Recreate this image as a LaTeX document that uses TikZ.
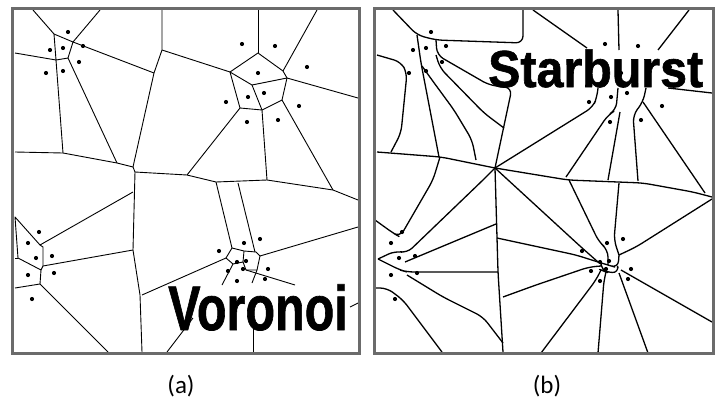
\documentclass[tikz,border=0pt]{standalone}
\usepackage{fontspec}
\newfontfamily\labelfont{Carlito}
\newfontfamily\titlefont[UprightFont={* Bold}, FakeBold=1.2]{Liberation Sans}
\tikzset{
  frame/.style={draw=black!58, line width=3pt},
  cell/.style={line width=0.9pt, line join=round},
  burst/.style={line width=1.3pt, rounded corners=7pt, line join=round},
  caption/.style={font=\labelfont\fontsize{25}{25}\selectfont},
  title/.style={font=\titlefont\fontsize{#1}{#1}\selectfont, inner sep=0pt, anchor=base west}
}
\begin{document}
\begin{tikzpicture}[x=1pt,y=-1pt]
\useasboundingbox (0,0) rectangle (716,410);

% (a) Voronoi cells
\begin{scope}[cell]
\draw (33,10) -- (54,34) -- (73,42) -- (100,10);
\draw (54,34) -- (56,60) -- (68,58) -- (73,42);
\draw (15,53) -- (56,60) -- (63,153);
\draw (68,58) -- (117,163);
\draw (73,42) -- (154,73);
\draw (162,10) -- (162,50) -- (154,73) -- (133,167);
\draw (15,152) -- (63,153) -- (117,163) -- (133,167);
\draw (162,50) -- (230,72);
\draw (230,72) -- (258,53) -- (283,71) -- (287,78) -- (282,100) -- (262,110) -- (240,108) -- cycle;
\draw (258,10) -- (258,53);
\draw (317,10) -- (283,71);
\draw (230,72) -- (252,85) -- (287,78);
\draw (252,85) -- (262,110);
\draw (287,78) -- (358,98);
\draw (240,108) -- (187,175);
\draw (262,110) -- (267,180);
\draw (282,100) -- (333,190);
\draw (133,167) -- (135,172) -- (187,175) -- (216,182) -- (267,180) -- (333,190) -- (358,200);
\draw (135,172) -- (133,250) -- (140,295) -- (142,352);
\draw (133,192) -- (40,245);
\draw (15,217) -- (40,245) -- (43,247) -- (43,266) -- (41,270) -- (18,258) -- cycle;
\draw (15,258) -- (18,258);
\draw (41,270) -- (40,284) -- (15,288);
\draw (40,284) -- (108,352);
\draw (43,266) -- (133,250);
\draw (216,182) -- (232,248);
\draw (238,183) -- (255,252);
\draw (232,248) -- (244,251) -- (256,252) -- (260,256) -- (257,270) -- (252,283);
\draw (232,248) -- (226,258) -- (233,264) -- (243,262) -- (244,251);
\draw (243,262) -- (246,270) -- (257,270);
\draw (233,264) -- (222,285);
\draw (246,270) -- (295,285);
\draw (226,258) -- (142,295);
\draw (260,256) -- (358,227);
\draw (193,318) -- (167,352);
\draw (253,317) -- (253,352);
\draw (350,307) -- (358,303);
\end{scope}

% (b) starburst cells
\begin{scope}[burst]
\draw (393,10) -- (417,35) -- (436,40) -- (523,43) -- (523,10);
\draw (417,35) -- (421,63) -- (439,157);
\draw (436,40) -- (437,55) -- (489,85) -- (512,88) -- (495,168);
\draw (436,55) -- (440,68) -- (484,113) -- (504,128);
\draw (422,66) -- (432,80) -- (454,110) -- (472,140) -- (476,160);
\draw (377,55) -- (401,62) -- (407,73) -- (401,133) -- (391,152);
\draw (377,152) -- (441,157) -- (495,168);
\draw (495,168) -- (593,107) -- (597,97) -- (598,88);
\draw (495,168) -- (568,180) -- (643,183) -- (693,192) -- (712,197);
\draw (495,168) -- (581,247) -- (598,262);
\draw (495,168) -- (498,272) -- (503,352);
\draw (375,220) -- (393,233) -- (400,237) -- (433,180) -- (440,157);
\draw (378,259) -- (395,251) -- (407,253) -- (483,180) -- (495,168);
\draw (405,262) -- (496,224);
\draw (378,259) -- (400,270) -- (407,272) -- (498,272);
\draw (407,275) -- (443,297) -- (483,317) -- (503,343);
\draw (375,288) -- (387,288) -- (403,300) -- (442,352);
\draw (533,10) -- (587,48);
\draw (618,10) -- (619,50);
\draw (689,10) -- (658,50);
\draw (668,88) -- (712,93);
\draw (618,88) -- (616,110) -- (608,115) -- (566,177);
\draw (620,112) -- (608,180);
\draw (646,88) -- (643,102) -- (633,115) -- (638,181);
\draw (643,102) -- (705,193);
\draw (569,180) -- (599,242) -- (608,250) -- (608,265);
\draw (619,183) -- (614,240) -- (619,255);
\draw (619,255) -- (636,247) -- (712,199);
\draw (497,238) -- (576,255) -- (598,262);
\draw (503,297) -- (536,285) -- (589,267) -- (601,266);
\draw (541,353) -- (596,280) -- (601,270);
\draw (598,353) -- (604,280) -- (606,272);
\draw (648,353) -- (619,273);
\draw (712,322) -- (621,270);
\draw (598,262) -- (608,265) -- (618,268) -- (619,255);
\draw (601,266) -- (601,270) -- (606,272) -- (619,273) -- (618,268);
\end{scope}

% sites, same in both panels
\foreach \dx in {0,363} {
  \foreach \px/\py in {68/32, 50/50, 63/48, 83/46, 79/62, 46/73, 63/71,
      242/44, 275/46, 307/67, 258/73, 248/97, 264/93, 226/102, 299/106, 247/122, 278/120,
      39/232, 28/243, 36/258, 52/256, 28/275, 54/273, 32/299,
      219/251, 244/243, 260/239, 237/262, 246/261, 228/271, 243/269, 268/269, 237/281, 265/279}
    \fill (\px+\dx,\py) circle (2.1);
}

\node[title=63, xscale=0.77] (voronoi) at (168,330) {Voronoi};
\node[title=52, xscale=0.93] (starburst) at (488,87) {Starburst};

\draw[frame] (12,8) rectangle (359,353);
\draw[frame] (374,8) rectangle (713,353);

\node[caption] (capa) at (181,386) {(a)};
\node[caption] (capb) at (547,386) {(b)};
\end{tikzpicture}
\end{document}
